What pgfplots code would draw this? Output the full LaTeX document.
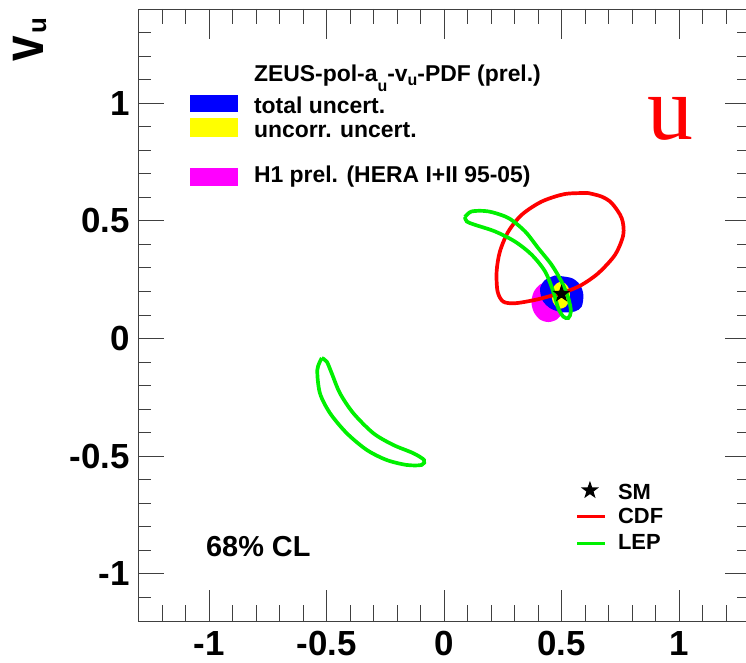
\documentclass[border=0pt]{standalone}
\usepackage{fontspec}
\setmainfont{Liberation Sans}
\newfontfamily\serifu{Liberation Serif}
\usepackage{pgfplots}
\pgfplotsset{compat=1.18}
\definecolor{cblue}{RGB}{0,0,255}
\definecolor{cyel}{RGB}{255,255,0}
\definecolor{cmag}{RGB}{255,0,255}
\definecolor{cred}{RGB}{255,0,0}
\definecolor{cgreen}{RGB}{0,240,0}
\pgfdeclareplotmark{fstar}{%
  \pgfpathmoveto{\pgfpointpolar{90}{\pgfplotmarksize}}%
  \pgfpathlineto{\pgfpointpolar{126}{0.4\pgfplotmarksize}}%
  \pgfpathlineto{\pgfpointpolar{162}{\pgfplotmarksize}}%
  \pgfpathlineto{\pgfpointpolar{198}{0.4\pgfplotmarksize}}%
  \pgfpathlineto{\pgfpointpolar{234}{\pgfplotmarksize}}%
  \pgfpathlineto{\pgfpointpolar{270}{0.4\pgfplotmarksize}}%
  \pgfpathlineto{\pgfpointpolar{306}{\pgfplotmarksize}}%
  \pgfpathlineto{\pgfpointpolar{342}{0.4\pgfplotmarksize}}%
  \pgfpathlineto{\pgfpointpolar{18}{\pgfplotmarksize}}%
  \pgfpathlineto{\pgfpointpolar{54}{0.4\pgfplotmarksize}}%
  \pgfpathclose\pgfusepathqfill}
\pgfplotsset{
  common/.style={
    scale only axis, width=611bp, height=612bp,
    xmin=-1.3, xmax=1.3, ymin=-1.2, ymax=1.4,
    axis line style={black!75, line width=0.9bp},
    tick style={black!75, line width=0.9bp},
    tick align=inside, tick pos=both,
    ticklabel style={font=\bfseries\fontsize{35}{35}\selectfont},
  }
}
\begin{document}
\begin{tikzpicture}
% y ticks axis
\begin{axis}[common,
  xtick=\empty,
  ytick={-1,-0.5,0,0.5,1},
  yticklabels={-1,-0.5,0,0.5,1},
  minor ytick={-1.1,-0.9,-0.8,-0.7,-0.6,-0.4,-0.3,-0.2,-0.1,0.1,0.2,0.3,0.4,0.6,0.7,0.8,0.9,1.1,1.2,1.3},
  major tick length=25bp, minor tick length=12.5bp,
  yticklabel style={inner sep=0pt, anchor=east, xshift=-8.5bp},
]
\end{axis}
% main axis with x ticks and data
\begin{axis}[common, name=ax, clip=false,
  ytick=\empty,
  xtick={-1,-0.5,0,0.5,1},
  xticklabels={-1,-0.5,0,0.5,1},
  minor xtick={-1.2,-1.1,-0.9,-0.8,-0.7,-0.6,-0.4,-0.3,-0.2,-0.1,0.1,0.2,0.3,0.4,0.6,0.7,0.8,0.9,1.1,1.2},
  major tick length=30.5bp, minor tick length=15.5bp,
  xticklabel style={inner sep=0pt, anchor=north, yshift=-10bp},
]
% H1 prel. (magenta)
\addplot[fill=cmag, draw=none, smooth] coordinates {
 (0.516,0.155) (0.506,0.198) (0.480,0.229) (0.444,0.240) (0.408,0.229) (0.382,0.198)
 (0.372,0.155) (0.382,0.113) (0.408,0.081) (0.444,0.070) (0.480,0.081) (0.506,0.113) (0.516,0.155)};
% ZEUS total uncert. (blue)
\addplot[fill=cblue, draw=none, smooth] coordinates {
 (0.472,0.268) (0.543,0.257) (0.579,0.228) (0.593,0.186) (0.586,0.136) (0.557,0.115)
 (0.500,0.112) (0.451,0.129) (0.418,0.164) (0.409,0.214) (0.430,0.249) (0.472,0.268)};
% ZEUS uncorr. uncert. (yellow)
\addplot[fill=cyel, draw=none, smooth] coordinates {
 (0.536,0.184) (0.531,0.213) (0.517,0.233) (0.497,0.241) (0.478,0.233) (0.463,0.213)
 (0.458,0.184) (0.463,0.156) (0.478,0.135) (0.497,0.127) (0.517,0.135) (0.531,0.156) (0.536,0.184)};
% CDF
\addplot[cred, line width=3.7bp, smooth, mark=none] coordinates {
 (0.614,0.618) (0.515,0.614) (0.416,0.582) (0.331,0.526) (0.274,0.455) (0.238,0.370)
 (0.224,0.285) (0.228,0.200) (0.252,0.157) (0.302,0.150) (0.387,0.164) (0.472,0.186)
 (0.529,0.203) (0.586,0.228) (0.657,0.278) (0.728,0.356) (0.763,0.441) (0.756,0.512)
 (0.714,0.575) (0.671,0.603) (0.614,0.618)};
% LEP upper
\addplot[cgreen, line width=3.7bp, smooth, mark=none] coordinates {
 (0.089,0.516) (0.118,0.540) (0.189,0.540) (0.274,0.512) (0.345,0.455) (0.401,0.384)
 (0.458,0.313) (0.500,0.242) (0.529,0.172) (0.540,0.115) (0.529,0.087) (0.508,0.093)
 (0.486,0.129) (0.465,0.200) (0.430,0.285) (0.373,0.356) (0.302,0.412) (0.217,0.455)
 (0.132,0.483) (0.097,0.497) (0.089,0.516)};
% LEP lower
\addplot[cgreen, line width=3.7bp, smooth, mark=none] coordinates {
 (-0.520,-0.083) (-0.539,-0.133) (-0.528,-0.232) (-0.485,-0.317) (-0.414,-0.402)
 (-0.329,-0.473) (-0.244,-0.516) (-0.159,-0.537) (-0.095,-0.537) (-0.085,-0.516)
 (-0.131,-0.487) (-0.216,-0.452) (-0.301,-0.402) (-0.386,-0.317) (-0.443,-0.232)
 (-0.478,-0.147) (-0.499,-0.098) (-0.520,-0.083)};
% SM point
\addplot[only marks, mark=fstar, mark size=9.5bp, black] coordinates {(0.5,0.19)};
% legend 2
\addplot[only marks, mark=fstar, mark size=9.5bp, black] coordinates {(0.621,-0.645)};
\draw[cred, line width=3bp] (axis cs:0.566,-0.754) -- (axis cs:0.685,-0.754);
\draw[cgreen, line width=3bp] (axis cs:0.566,-0.869) -- (axis cs:0.685,-0.869);
\begin{scope}[every node/.style={inner sep=0pt, anchor=base west, font=\bfseries\fontsize{22}{22}\selectfont}]
\node at (axis cs:0.740,-0.683) {SM};
\node at (axis cs:0.740,-0.785) {CDF};
\node at (axis cs:0.740,-0.898) {LEP};
\end{scope}
% legend 1
\fill[cblue] (axis cs:-1.081,0.963) rectangle (axis cs:-0.877,1.035);
\fill[cyel] (axis cs:-1.081,0.856) rectangle (axis cs:-0.877,0.938);
\fill[cmag] (axis cs:-1.081,0.649) rectangle (axis cs:-0.877,0.725);
\begin{scope}[every node/.style={inner sep=0pt, anchor=base west, font=\bfseries\fontsize{23}{23}\selectfont}]
\node at (axis cs:-0.809,1.091) {ZEUS-pol-a\raisebox{-10bp}{\fontsize{16}{16}\selectfont u}-v\raisebox{-4bp}{\fontsize{16}{16}\selectfont u}-PDF (prel.)};
\node at (axis cs:-0.809,0.958) {total uncert.};
\node at (axis cs:-0.809,0.856) {uncorr. uncert.};
\node at (axis cs:-0.809,0.665) {H1 prel. (HERA I+II 95-05)};
\end{scope}
% 68% CL
\node[inner sep=0pt, anchor=base west, font=\bfseries\fontsize{29}{29}\selectfont] at (axis cs:-1.013,-0.928) {68\% CL};
% u
\node[inner sep=0pt, anchor=base west, text=cred, font=\serifu\fontsize{92}{92}\selectfont] at (axis cs:0.864,0.844) {u};
% y label
\node[inner sep=0pt, anchor=base west, rotate=90, font=\bfseries] at (axis cs:-1.706,1.176) {\scalebox{1}[1.25]{\fontsize{46}{46}\selectfont v}\kern3bp\raisebox{-3bp}{\fontsize{26}{26}\selectfont u}};
\end{axis}
\pgfresetboundingbox
\path ([xshift=-138.5bp,yshift=-42bp]ax.south west) rectangle ([xshift=-3.5bp,yshift=9bp]ax.north east);
\end{tikzpicture}
\end{document}
